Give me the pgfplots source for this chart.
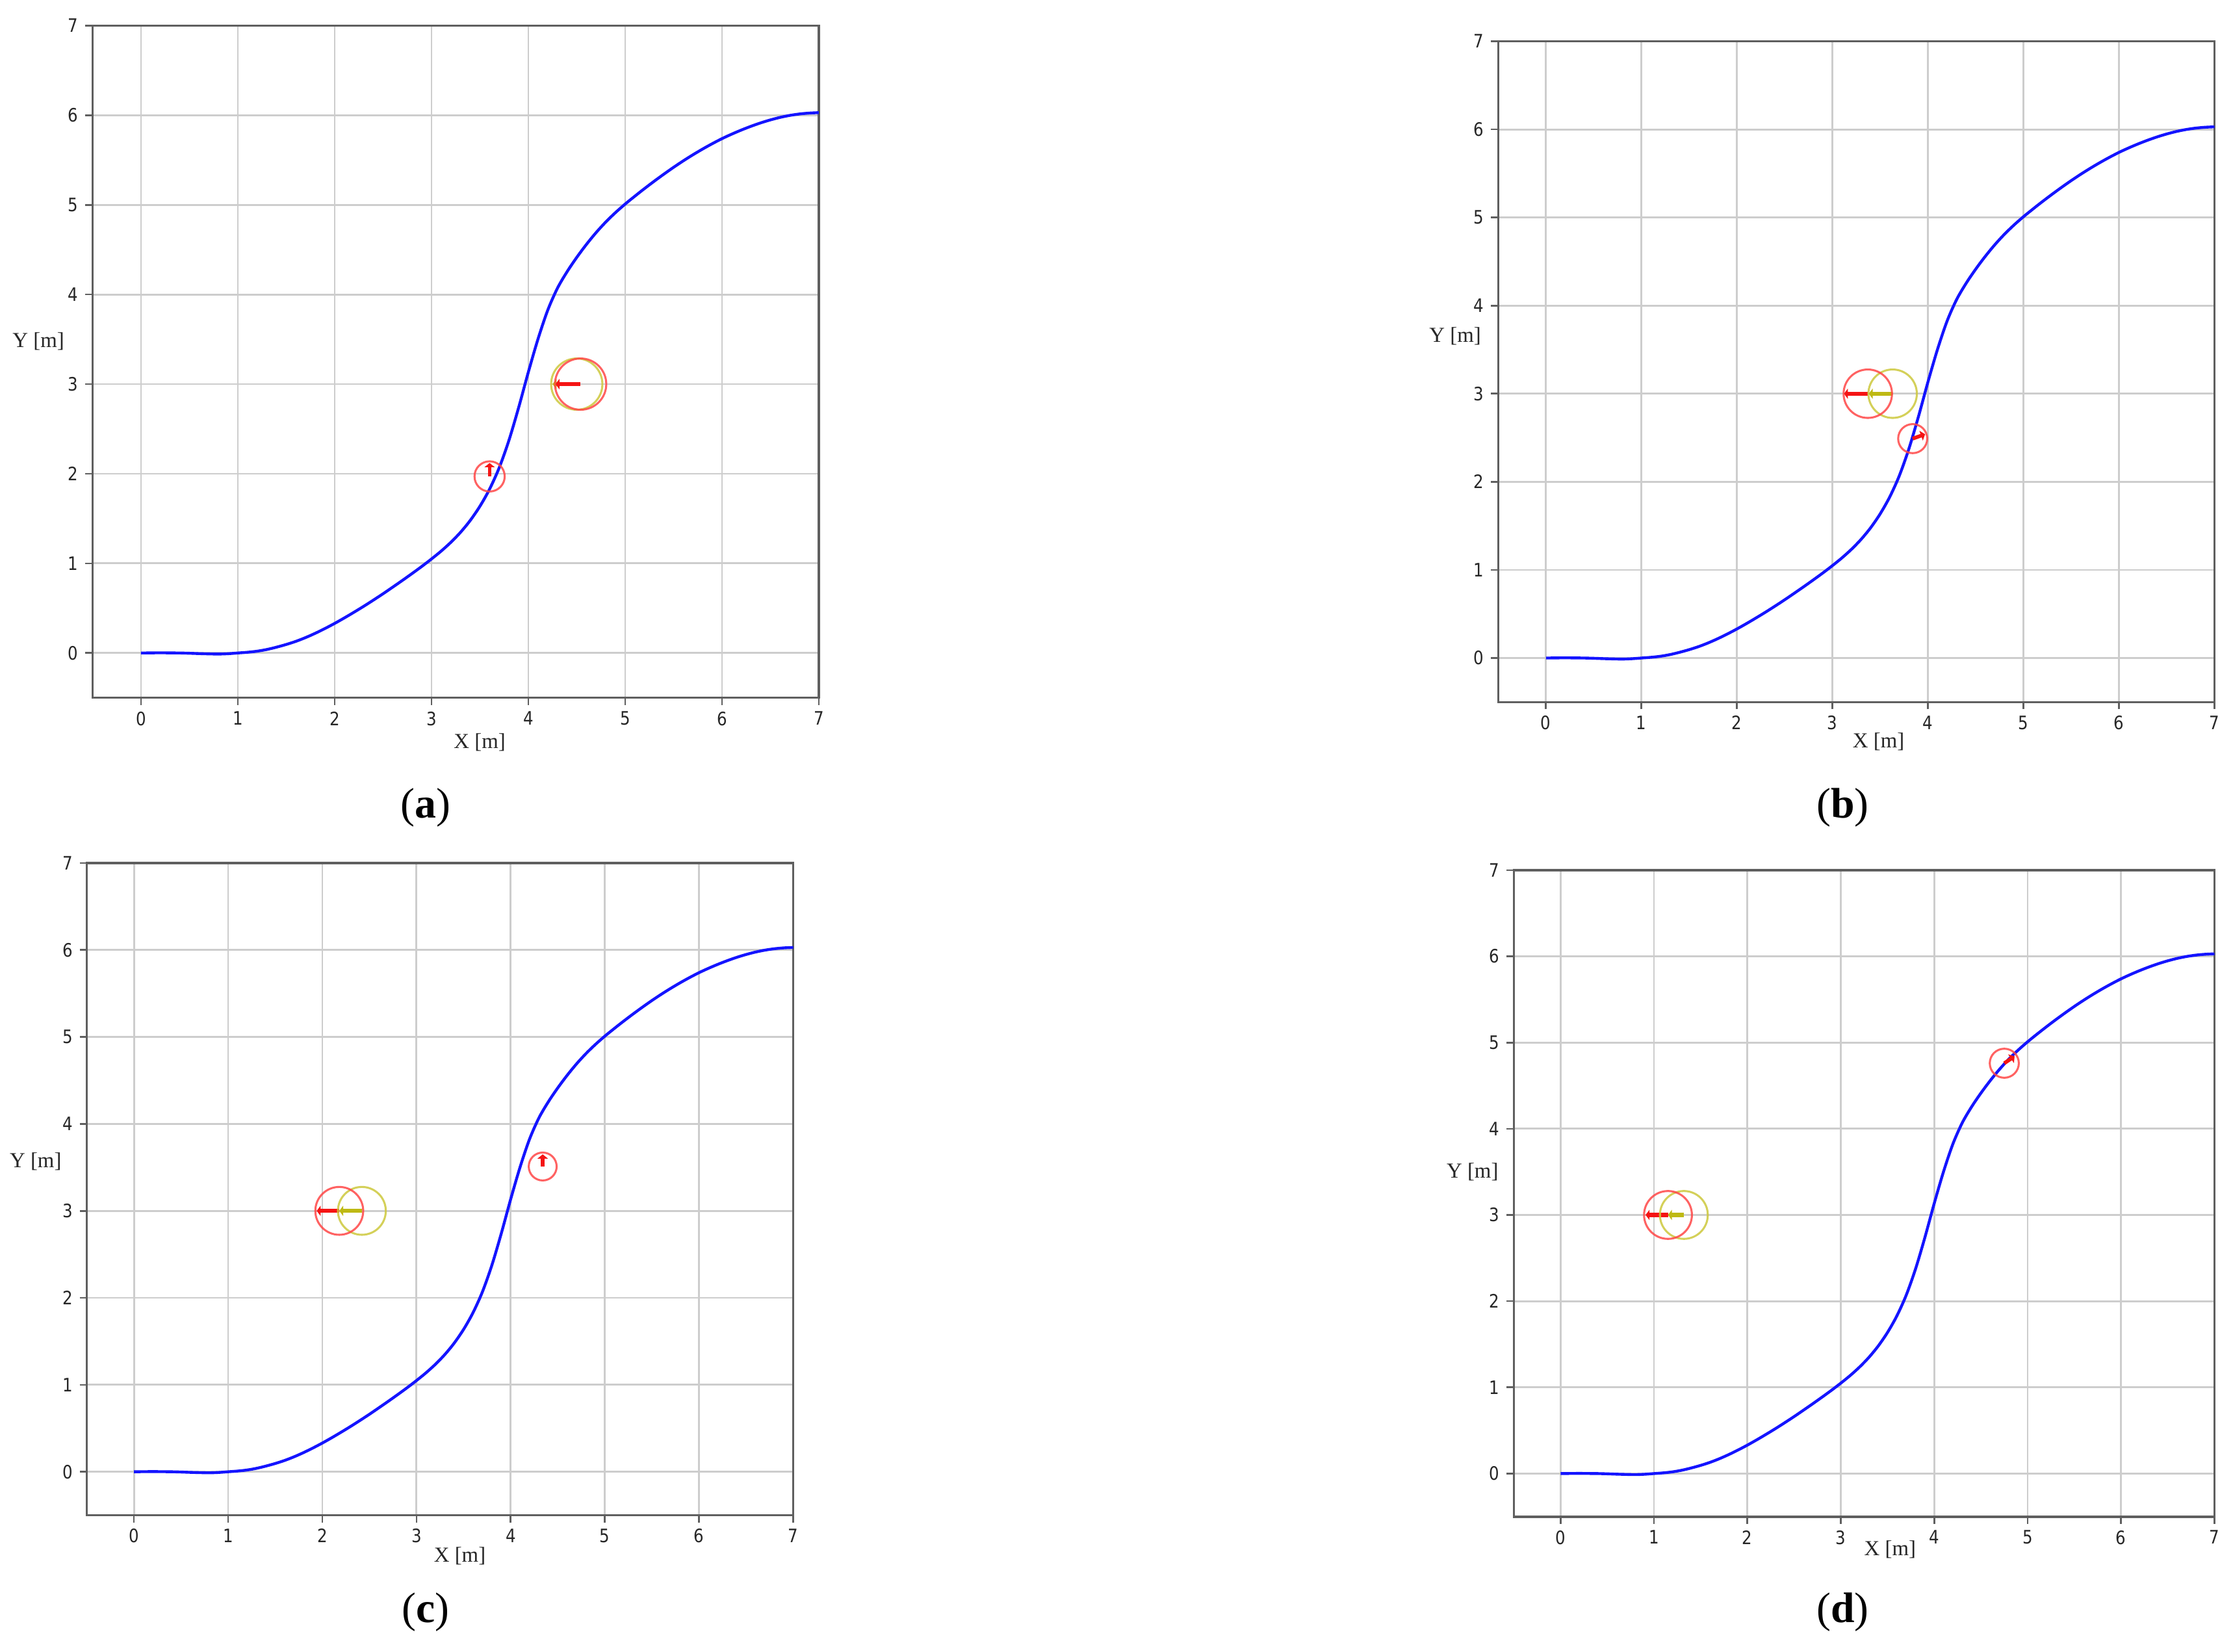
\documentclass[border=0pt]{standalone}
\usepackage{pgfplots}
\pgfplotsset{compat=1.18}
\usepackage{pgfplotstable}
\usepackage{fontspec}
\setmainfont{Liberation Serif}
\newfontfamily\tickfamily[FakeStretch=0.86]{DejaVu Sans}
\newcommand\lblfont{\fontsize{7.5}{9}\selectfont}
\usetikzlibrary{arrows.meta}

\definecolor{gridgray}{RGB}{205,205,205}
\definecolor{framegray}{RGB}{95,95,95}
\definecolor{pathblue}{RGB}{20,20,255}
\definecolor{circred}{RGB}{255,70,70}
\definecolor{arrred}{RGB}{245,20,20}
\definecolor{circyel}{RGB}{205,200,60}
\definecolor{arryel}{RGB}{190,185,20}

\pgfplotstableread{
x y
0.0 0.000
0.1 0.001
0.2 0.002
0.3 0.001
0.4 0.000
0.5 -0.003
0.6 -0.007
0.7 -0.010
0.8 -0.012
0.9 -0.008
1.0 0.000
1.1 0.008
1.2 0.020
1.3 0.039
1.4 0.065
1.5 0.095
1.6 0.130
1.7 0.172
1.8 0.220
1.9 0.273
2.0 0.330
2.1 0.391
2.2 0.455
2.3 0.521
2.4 0.590
2.5 0.661
2.6 0.735
2.7 0.810
2.8 0.887
2.9 0.966
3.0 1.049
3.1 1.137
3.2 1.235
3.3 1.347
3.4 1.479
3.5 1.637
3.6 1.829
3.7 2.069
3.8 2.374
3.9 2.739
4.0 3.134
4.1 3.504
4.2 3.824
4.3 4.069
4.4 4.254
4.5 4.414
4.6 4.559
4.7 4.691
4.8 4.809
4.9 4.914
5.0 5.009
5.1 5.097
5.2 5.182
5.3 5.264
5.4 5.343
5.5 5.419
5.6 5.491
5.7 5.559
5.8 5.623
5.9 5.683
6.0 5.739
6.1 5.789
6.2 5.835
6.3 5.877
6.4 5.915
6.5 5.948
6.6 5.976
6.7 5.998
6.8 6.014
6.9 6.024
7.0 6.029
}\pathdata

\pgfplotsset{
  panel/.style={
    scale only axis,
    xmin=-0.5, xmax=7, ymin=-0.5, ymax=7,
    xtick={0,1,2,3,4,5,6,7}, ytick={0,1,2,3,4,5,6,7},
    grid=major,
    major grid style={line width=0.65pt, draw=gridgray},
    axis line style={line width=0.8pt, draw=framegray},
    tick style={line width=0.6pt, draw=framegray},
    tick align=outside, major tick length=2.5pt,
    xtick pos=bottom, ytick pos=left,
    /pgf/number format/assume math mode=true,
    ticklabel style={font=\tickfamily\fontsize{6.5}{7}\selectfont, text=black!85},
    xticklabel style={yshift=1.2pt},
    yticklabel style={xshift=1pt},
    xlabel={X [m]}, ylabel={Y [m]},
  },
  bluepath/.style={pathblue, line width=1pt, smooth, tension=0.5, no markers},
  bigred/.style={only marks, mark=o, mark size=#1, mark options={draw=circred, line width=0.7pt, draw opacity=0.85}},
  bigyel/.style={only marks, mark=o, mark size=#1, mark options={draw=circyel, line width=0.7pt, draw opacity=0.85}},
  redarrow/.style={no markers, quiver={u=\thisrow{u},v=\thisrow{v}}, draw=arrred, line width=1.4pt, -{Triangle[length=1.4pt,width=3.6pt]}},
  yelarrow/.style={no markers, quiver={u=\thisrow{u},v=\thisrow{v}}, draw=arryel, line width=1.4pt, -{Triangle[length=1.4pt,width=3.6pt]}},
  smallarrow/.style={no markers, quiver={u=\thisrow{u},v=\thisrow{v}}, draw=arrred, line width=1.3pt, -{Triangle[length=1.5pt,width=3.6pt]}},
}

\begin{document}
\begin{tikzpicture}
\path[use as bounding box] (0,0) rectangle (784pt,580pt);

% (a)
\begin{axis}[panel, at={(32.5pt,335pt)}, anchor=south west, width=255pt, height=236pt,
  every axis y label/.style={at={(axis description cs:-0.0745,0.53)}, anchor=center, font=\lblfont, text=black!85},
  every axis x label/.style={at={(axis description cs:0.533,-0.066)}, anchor=center, font=\lblfont, text=black!85}]
\addplot[bluepath] table[x=x,y=y] {\pathdata};
\addplot[bigyel=9pt] coordinates {(4.50,3.0)};
\addplot[bigred=9pt] coordinates {(4.54,3.0)};
\addplot[yelarrow] table {x y u v
4.50 3.0 -0.25 0
};
\addplot[redarrow] table {x y u v
4.54 3.0 -0.26 0
};
\addplot[bigred=5.3pt] coordinates {(3.60,1.97)};
\addplot[smallarrow] table {x y u v
3.60 1.97 0 0.15
};
\end{axis}

% (b)
\begin{axis}[panel, at={(526pt,333.5pt)}, anchor=south west, width=251.5pt, height=232pt,
  every axis y label/.style={at={(axis description cs:-0.06,0.554)}, anchor=center, font=\lblfont, text=black!85},
  every axis x label/.style={at={(axis description cs:0.531,-0.060)}, anchor=center, font=\lblfont, text=black!85}]
\addplot[bluepath] table[x=x,y=y] {\pathdata};
\addplot[bigyel=8.5pt] coordinates {(3.63,3.0)};
\addplot[bigred=8.5pt] coordinates {(3.37,3.0)};
\addplot[redarrow] table {x y u v
3.37 3.0 -0.25 0
};
\addplot[yelarrow] table {x y u v
3.63 3.0 -0.25 0
};
\addplot[bigred=5.1pt] coordinates {(3.84,2.49)};
\addplot[smallarrow] table {x y u v
3.84 2.49 0.13 0.05
};
\end{axis}

% (c)
\begin{axis}[panel, at={(30.5pt,48pt)}, anchor=south west, width=248pt, height=229pt,
  every axis y label/.style={at={(axis description cs:-0.0726,0.542)}, anchor=center, font=\lblfont, text=black!85},
  every axis x label/.style={at={(axis description cs:0.528,-0.063)}, anchor=center, font=\lblfont, text=black!85}]
\addplot[bluepath] table[x=x,y=y] {\pathdata};
\addplot[bigyel=8.4pt] coordinates {(2.42,3.0)};
\addplot[bigred=8.4pt] coordinates {(2.18,3.0)};
\addplot[redarrow] table {x y u v
2.18 3.0 -0.24 0
};
\addplot[yelarrow] table {x y u v
2.42 3.0 -0.24 0
};
\addplot[bigred=4.9pt] coordinates {(4.34,3.51)};
\addplot[smallarrow] table {x y u v
4.34 3.51 0 0.14
};
\end{axis}

% (d)
\begin{axis}[panel, at={(531.5pt,47.5pt)}, anchor=south west, width=246pt, height=227pt,
  every axis y label/.style={at={(axis description cs:-0.059,0.533)}, anchor=center, font=\lblfont, text=black!85},
  every axis x label/.style={at={(axis description cs:0.537,-0.051)}, anchor=center, font=\lblfont, text=black!85}]
\addplot[bluepath] table[x=x,y=y] {\pathdata};
\addplot[bigyel=8.4pt] coordinates {(1.32,3.0)};
\addplot[bigred=8.4pt] coordinates {(1.15,3.0)};
\addplot[redarrow] table {x y u v
1.15 3.0 -0.24 0
};
\addplot[yelarrow] table {x y u v
1.32 3.0 -0.17 0
};
\addplot[bigred=5.1pt] coordinates {(4.75,4.76)};
\addplot[smallarrow] table {x y u v
4.75 4.76 0.11 0.08
};
\end{axis}

\node[font=\fontsize{15}{18}\selectfont] at (149.5pt,296.5pt) {(\textbf{a})};
\node[font=\fontsize{15}{18}\selectfont] at (647pt,296.5pt) {(\textbf{b})};
\node[font=\fontsize{15}{18}\selectfont] at (149.5pt,14pt) {(\textbf{c})};
\node[font=\fontsize{15}{18}\selectfont] at (647pt,14pt) {(\textbf{d})};
\end{tikzpicture}
\end{document}
